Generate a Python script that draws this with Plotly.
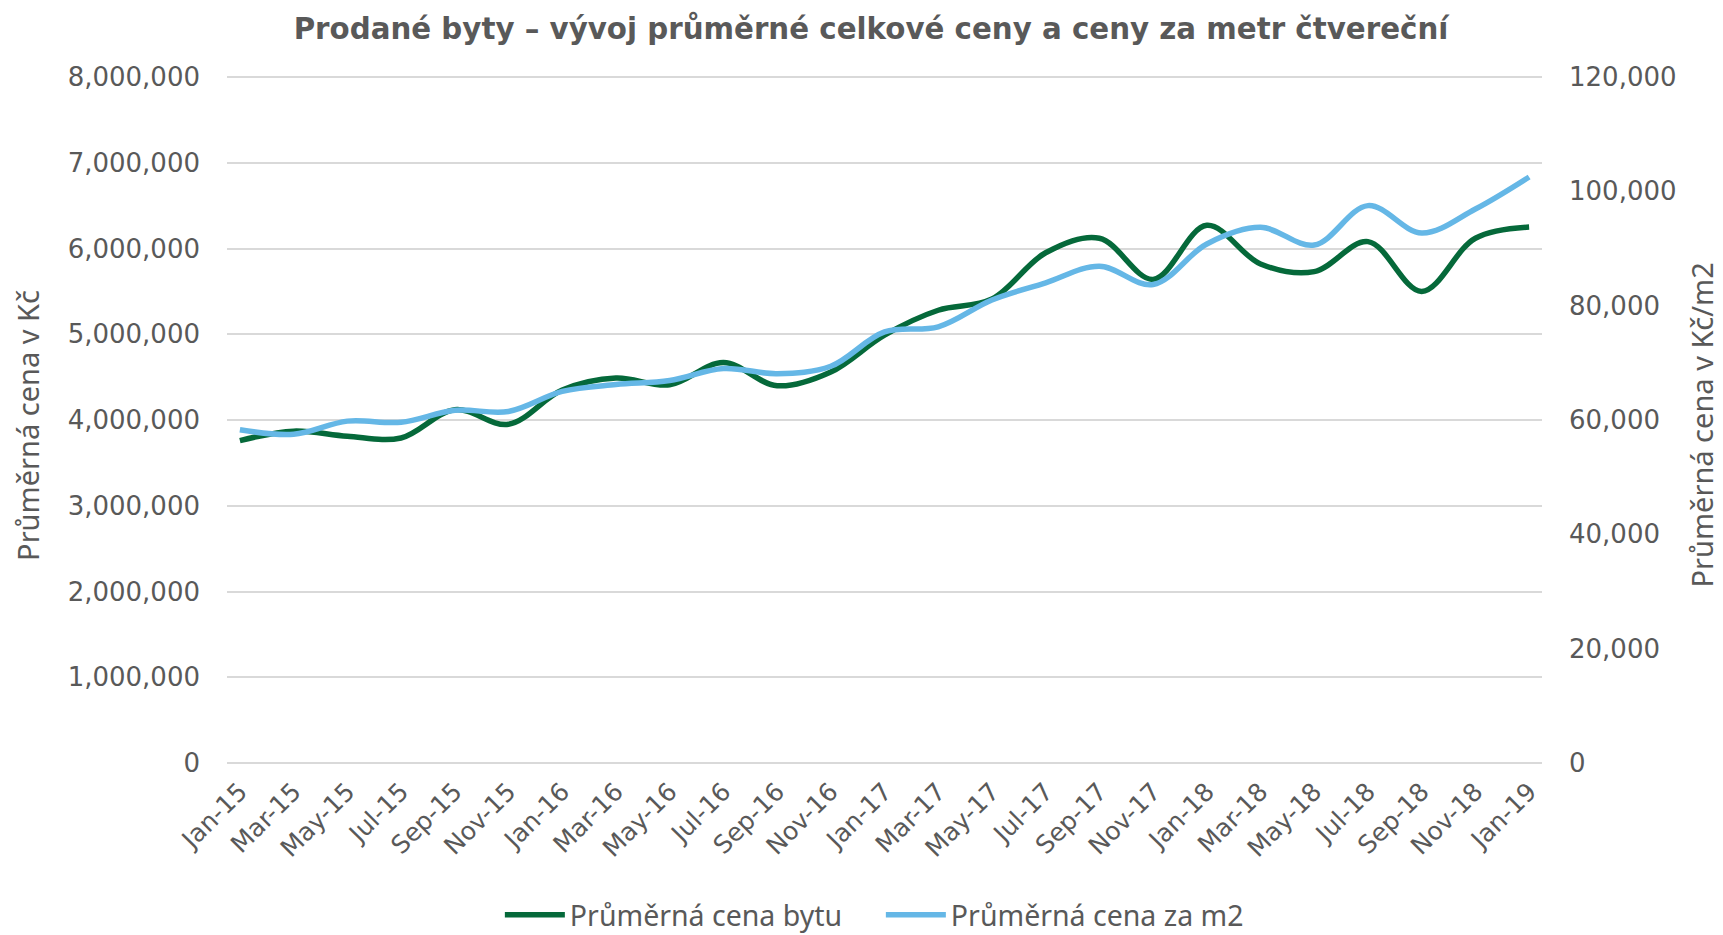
import plotly.graph_objects as go

months = ["Jan-15", "Mar-15", "May-15", "Jul-15", "Sep-15", "Nov-15",
          "Jan-16", "Mar-16", "May-16", "Jul-16", "Sep-16", "Nov-16",
          "Jan-17", "Mar-17", "May-17", "Jul-17", "Sep-17", "Nov-17",
          "Jan-18", "Mar-18", "May-18", "Jul-18", "Sep-18", "Nov-18",
          "Jan-19"]

cena_bytu = [3760000, 3870000, 3810000, 3790000, 4120000, 3950000,
             4350000, 4490000, 4410000, 4670000, 4400000, 4560000,
             4990000, 5280000, 5410000, 5950000, 6120000, 5640000,
             6270000, 5820000, 5730000, 6080000, 5500000, 6120000,
             6250000]

cena_m2 = [58300, 57500, 59800, 59600, 61700, 61500,
           65000, 66200, 66900, 69000, 68100, 69400,
           75400, 76300, 81000, 84000, 86900, 83700,
           90800, 93700, 90600, 97500, 92700, 96900,
           102500]

left_ticks = [0, 1000000, 2000000, 3000000, 4000000, 5000000, 6000000, 7000000, 8000000]
right_ticks = [0, 20000, 40000, 60000, 80000, 100000, 120000]

GREEN = "#05693A"
BLUE = "#65B7E6"
TXT = "#595959"
GRID = "#D9D9D9"

fig = go.Figure()
fig.add_trace(go.Scatter(
    x=months, y=cena_bytu, name="Průměrná cena bytu", mode="lines",
    line=dict(color=GREEN, width=5.5, shape="spline", smoothing=1.0),
    yaxis="y"))
fig.add_trace(go.Scatter(
    x=months, y=cena_m2, name="Průměrná cena za m2", mode="lines",
    line=dict(color=BLUE, width=5.5, shape="spline", smoothing=1.0),
    yaxis="y2"))

fig.update_layout(
    width=1723, height=935,
    margin=dict(l=227, r=181, t=74, b=172, autoexpand=False),
    paper_bgcolor="white", plot_bgcolor="white",
    font=dict(family="DejaVu Sans", color=TXT),
    title=dict(text="<b>Prodané byty – vývoj průměrné celkové ceny a ceny za metr čtvereční</b>",
               x=0.5055, xanchor="center", y=0.969, yanchor="middle",
               font=dict(family="DejaVu Sans", size=29.3, color=TXT)),
    xaxis=dict(type="category", range=[-0.24, 24.24], tickangle=-45,
               showgrid=False, showline=False, zeroline=False, automargin=False,
               tickfont=dict(family="DejaVu Sans", size=25, color=TXT),
               ticklabelstandoff=8),
    yaxis=dict(range=[0, 8035000], tickvals=left_ticks,
               tickformat=",d", automargin=False,
               showgrid=True, gridcolor=GRID, gridwidth=1.5,
               zeroline=True, zerolinecolor=GRID, zerolinewidth=1.5,
               tickfont=dict(family="DejaVu Sans", size=26, color=TXT),
               ticklabelstandoff=26),
    yaxis2=dict(range=[0, 120525], tickvals=right_ticks,
                tickformat=",d", automargin=False,
                overlaying="y", side="right", showgrid=False, zeroline=False,
                tickfont=dict(family="DejaVu Sans", size=26, color=TXT),
                ticklabelstandoff=26),
    legend=dict(orientation="h", x=0.2075, xanchor="left",
                yref="paper", y=-0.221, yanchor="middle",
                font=dict(family="Noto Sans", size=28.5, color=TXT),
                itemwidth=60, entrywidth=306, tracegroupgap=0),
    showlegend=True,
    annotations=[
        dict(text="Průměrná cena v Kč", xref="paper", yref="paper",
             x=-0.1517, y=0.49, xanchor="center", yanchor="middle",
             textangle=-90, showarrow=False,
             font=dict(family="Noto Sans", size=29, color=TXT)),
        dict(text="Průměrná cena v Kč/m2", xref="paper", yref="paper",
             x=1.1210, y=0.49, xanchor="center", yanchor="middle",
             textangle=-90, showarrow=False,
             font=dict(family="Noto Sans", size=29, color=TXT)),
    ],
)

fig.write_html("out.html", config={"displayModeBar": False},
               post_script="document.body.style.margin='0';")
